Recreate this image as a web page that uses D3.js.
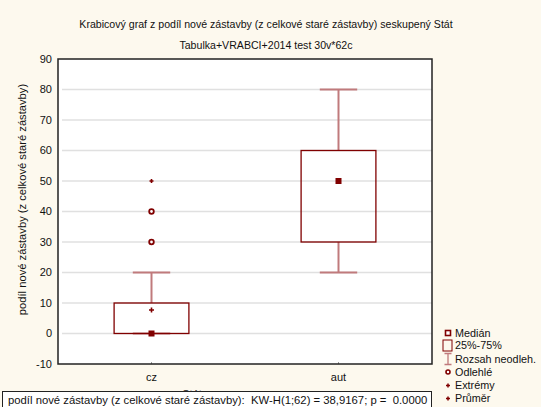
<!DOCTYPE html>
<html>
<head>
<meta charset="utf-8">
<script src="https://cdn.jsdelivr.net/npm/d3@7"></script>
<style>
  body { margin: 0; background: #fdf9ee; }
  svg { display: block; font-family: "Liberation Sans", Arial, sans-serif; }
</style>
</head>
<body>
<div class="graph-container"></div>
<script>
const categories = ["cz", "aut"];
const q1 = [0, 30];
const q3 = [10, 60];
const medians = [0, 50];
const whiskerLow = [0, 20];
const whiskerHigh = [20, 80];
const means = [7.7, 50];
const outliers = [[30, 40], []];
const extremes = [[50], []];
const yTicks = [-10, 0, 10, 20, 30, 40, 50, 60, 70, 80, 90];
const legendLabels = ["Medián", "25%-75%", "Rozsah neodleh.", "Odlehlé", "Extrémy", "Průměr"];

const width = 541, height = 407;
const plotLeft = 58, plotRight = 432, plotTop = 59, plotBottom = 364;
const red = "#800000", pale = "#c07a7c";

const svg = d3.select(".graph-container").append("svg")
  .attr("width", width).attr("height", height);

svg.append("rect").attr("width", width).attr("height", height).attr("fill", "#fdf9ee");

const x = d3.scaleLinear().domain([0.5, categories.length + 0.5]).range([plotLeft, plotRight]);
const y = d3.scaleLinear().domain([-10, 90]).range([plotBottom, plotTop]);
const step = x(2) - x(1);

// plot area
svg.append("rect")
  .attr("x", plotLeft).attr("y", plotTop)
  .attr("width", plotRight - plotLeft).attr("height", plotBottom - plotTop)
  .attr("fill", "#fff");

// grid
svg.append("g")
  .selectAll("line")
  .data(yTicks.filter(d => d > -10 && d < 90))
  .join("line")
  .attr("x1", plotLeft + 4).attr("x2", plotRight)
  .attr("y1", d => y(d)).attr("y2", d => y(d))
  .attr("stroke", "#e0e0e0").attr("stroke-width", 1.5);

// y axis labels
svg.append("g")
  .selectAll("text")
  .data(yTicks)
  .join("text")
  .attr("x", plotLeft - 6).attr("y", d => y(d))
  .attr("dy", "0.35em").attr("text-anchor", "end")
  .attr("font-size", 11).attr("fill", "#111")
  .text(d => d);

// x labels
svg.append("g")
  .selectAll("text")
  .data(categories)
  .join("text")
  .attr("x", (d, i) => x(i + 1)).attr("y", 381)
  .attr("text-anchor", "middle").attr("font-size", 11).attr("fill", "#111")
  .text(d => d);

// small category ticks
svg.append("g")
  .selectAll("line")
  .data(categories)
  .join("line")
  .attr("x1", (d, i) => x(i + 1)).attr("x2", (d, i) => x(i + 1))
  .attr("y1", plotBottom - 2).attr("y2", plotBottom)
  .attr("stroke", "#999");

const boxes = svg.append("g").selectAll("g")
  .data(categories)
  .join("g");

// whiskers
boxes.append("line")
  .attr("x1", (d, i) => x(i + 1)).attr("x2", (d, i) => x(i + 1))
  .attr("y1", (d, i) => y(whiskerHigh[i])).attr("y2", (d, i) => y(q3[i]))
  .attr("stroke", pale).attr("stroke-width", 2);
boxes.append("line")
  .attr("x1", (d, i) => x(i + 1)).attr("x2", (d, i) => x(i + 1))
  .attr("y1", (d, i) => y(whiskerLow[i])).attr("y2", (d, i) => y(q1[i]))
  .attr("stroke", pale).attr("stroke-width", 2);
[whiskerHigh, whiskerLow].forEach(arr => {
  boxes.append("line")
    .attr("x1", (d, i) => x(i + 1) - step * 0.1).attr("x2", (d, i) => x(i + 1) + step * 0.1)
    .attr("y1", (d, i) => y(arr[i])).attr("y2", (d, i) => y(arr[i]))
    .attr("stroke", pale).attr("stroke-width", 2);
});

boxes.append("rect")
  .attr("x", (d, i) => x(i + 1) - step * 0.2)
  .attr("width", step * 0.4)
  .attr("y", (d, i) => y(q3[i]))
  .attr("height", (d, i) => y(q1[i]) - y(q3[i]))
  .attr("fill", "none").attr("stroke", red).attr("stroke-width", 1.3);

// mean
boxes.append("path")
  .attr("d", (d, i) => `M${x(i + 1) - 2.5},${y(means[i])}h5M${x(i + 1)},${y(means[i]) - 2.5}v5`)
  .attr("stroke", red).attr("stroke-width", 1.6);

// median
boxes.append("rect")
  .attr("x", (d, i) => x(i + 1) - 3).attr("y", (d, i) => y(medians[i]) - 3)
  .attr("width", 6).attr("height", 6)
  .attr("fill", red);

// outliers
boxes.selectAll("circle")
  .data((d, i) => outliers[i].map(v => ({ i, v })))
  .join("circle")
  .attr("cx", d => x(d.i + 1)).attr("cy", d => y(d.v))
  .attr("r", 2.3).attr("fill", "#fff").attr("stroke", red).attr("stroke-width", 1.8);

// extremes
boxes.selectAll("path.ext")
  .data((d, i) => extremes[i].map(v => ({ i, v })))
  .join("path")
  .attr("class", "ext")
  .attr("d", d => `M${x(d.i + 1) - 2},${y(d.v)}h4M${x(d.i + 1)},${y(d.v) - 2}v4`)
  .attr("stroke", red).attr("stroke-width", 1.6);

// frame
svg.append("rect")
  .attr("x", plotLeft).attr("y", plotTop)
  .attr("width", plotRight - plotLeft).attr("height", plotBottom - plotTop)
  .attr("fill", "none").attr("stroke", "#222").attr("stroke-width", 1.5);

// titles
svg.append("text").attr("x", 266).attr("y", 28)
  .attr("text-anchor", "middle").attr("font-size", 10.6).attr("fill", "#111")
  .text("Krabicový graf z podíl nové zástavby (z celkové staré zástavby) seskupený Stát");
svg.append("text").attr("x", 266).attr("y", 49)
  .attr("text-anchor", "middle").attr("font-size", 10.6).attr("fill", "#111")
  .text("Tabulka+VRABCI+2014 test 30v*62c");

svg.append("text")
  .attr("transform", `translate(26,${(plotTop + plotBottom) / 2 - 12}) rotate(-90)`)
  .attr("text-anchor", "middle").attr("font-size", 11.2).attr("fill", "#111")
  .text("podíl nové zástavby (z celkové staré zástavby)");

// x axis title, mostly hidden by the stats box
svg.append("text").attr("x", 192).attr("y", 398)
  .attr("text-anchor", "middle").attr("font-size", 11).attr("fill", "#111")
  .text("Stát");

// stats box
svg.append("rect").attr("x", 2.5).attr("y", 391.5).attr("width", 429).attr("height", 20)
  .attr("fill", "#fff").attr("stroke", "#222");
svg.append("text").attr("x", 8).attr("y", 404)
  .attr("font-size", 11.3).attr("fill", "#111")
  .style("white-space", "pre")
  .text("podíl nové zástavby (z celkové staré zástavby):  KW-H(1;62) = 38,9167; p =  0.0000");

// legend
const lx = 448, ly = [333, 345.5, 359, 372, 385.5, 398.5];
const legend = svg.append("g");
legend.selectAll("text")
  .data(legendLabels)
  .join("text")
  .attr("x", lx + 7).attr("y", (d, i) => ly[i])
  .attr("dy", "0.35em").attr("font-size", 10.8).attr("fill", "#111")
  .text(d => d);
legend.append("rect").attr("x", lx - 2.5).attr("y", ly[0] - 2.5).attr("width", 5).attr("height", 5)
  .attr("fill", "#fff").attr("stroke", red).attr("stroke-width", 1.6);
legend.append("rect").attr("x", lx - 5).attr("y", ly[1] - 5.5).attr("width", 9).attr("height", 11)
  .attr("fill", "none").attr("stroke", red);
legend.append("path")
  .attr("d", `M${lx - 3.5},${ly[2] - 5.5}h7M${lx},${ly[2] - 5.5}v11M${lx - 3.5},${ly[2] + 5.5}h7`)
  .attr("stroke", pale).attr("stroke-width", 1.3);
legend.append("circle").attr("cx", lx).attr("cy", ly[3]).attr("r", 2)
  .attr("fill", "#fff").attr("stroke", red).attr("stroke-width", 1.6);
[4, 5].forEach(k => {
  legend.append("path")
    .attr("d", `M${lx - 2},${ly[k]}h4M${lx},${ly[k] - 2}v4`)
    .attr("stroke", red).attr("stroke-width", 1.5);
});
</script>
</body>
</html>
